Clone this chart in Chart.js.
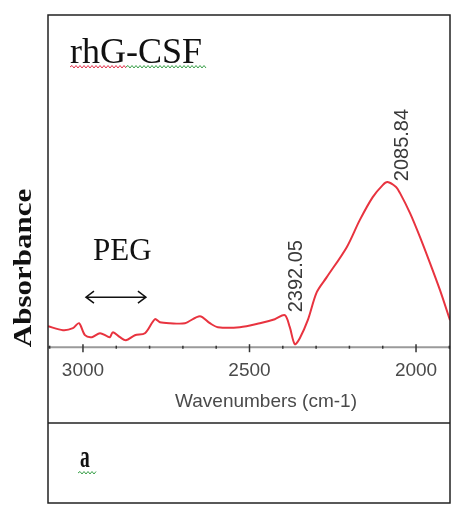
<!DOCTYPE html>
<html>
<head>
<meta charset="utf-8">
<script src="https://cdn.jsdelivr.net/npm/chart.js@4"></script>
<style>
  body { margin: 0; background: #fff; }
  canvas { display: block; }
</style>
</head>
<body>
<canvas id="grafico" width="453" height="507"></canvas>
<script>
// spectrum (wavenumber, absorbance in arbitrary units)
const wavenumbers = [3105, 3060, 3030, 3012, 2994, 2973, 2949, 2928, 2919, 2910, 2889, 2871, 2844, 2814, 2784, 2769, 2739, 2694, 2649, 2619, 2595, 2529, 2469, 2424, 2394, 2379, 2364, 2349, 2325, 2298, 2268, 2208, 2169, 2130, 2100, 2086, 2060, 2048, 2018, 1988, 1958, 1928, 1898];
const absorbance = [0.021, 0.017, 0.019, 0.024, 0.012, 0.010, 0.014, 0.011, 0.010, 0.015, 0.010, 0.007, 0.012, 0.014, 0.028, 0.025, 0.024, 0.024, 0.031, 0.024, 0.020, 0.020, 0.024, 0.028, 0.032, 0.020, 0.003, 0.009, 0.027, 0.055, 0.070, 0.100, 0.127, 0.150, 0.162, 0.165, 0.160, 0.154, 0.134, 0.110, 0.084, 0.057, 0.027];
const tickValues = [3100, 3000, 2900, 2800, 2700, 2600, 2500, 2400, 2300, 2200, 2100, 2000, 1900];
const tickLabels = [3000, 2500, 2000];
const peakLabels = ["2392.05", "2085.84"];
const peakPos = [[2360, 0.071], [2042, 0.202]];

const points = wavenumbers.map((w, i) => ({x: w, y: absorbance[i]}));

function squiggle(ctx, x1, x2, y, color) {
    ctx.beginPath();
    ctx.strokeStyle = color;
    ctx.lineWidth = 1;
    let up = true;
    ctx.moveTo(x1, y);
    for (let x = x1; x < x2; x += 2) {
        ctx.lineTo(x + 2, up ? y - 1.5 : y + 1);
        up = !up;
    }
    ctx.stroke();
}

const extras = {
    id: "extras",
    afterDatasetsDraw(chart) {
        const ctx = chart.ctx;
        const a = chart.chartArea;
        const xs = chart.scales.x;
        const ys = chart.scales.y;
        ctx.save();

        // axis line and ticks
        ctx.strokeStyle = "#9a9a9a";
        ctx.lineWidth = 2;
        ctx.beginPath();
        ctx.moveTo(a.left, a.bottom);
        ctx.lineTo(a.right, a.bottom);
        ctx.stroke();
        ctx.strokeStyle = "#333";
        ctx.lineWidth = 1.5;
        for (let v of tickValues) {
            const px = xs.getPixelForValue(v);
            const major = tickLabels.includes(v);
            ctx.beginPath();
            ctx.moveTo(px, a.bottom - (major ? 3 : 1.5));
            ctx.lineTo(px, a.bottom + (major ? 5 : 1.5));
            ctx.stroke();
        }

        // frame
        ctx.strokeStyle = "#222";
        ctx.lineWidth = 1.5;
        ctx.strokeRect(48, 15, 402, 488);
        ctx.beginPath();
        ctx.moveTo(48, 423);
        ctx.lineTo(450, 423);
        ctx.stroke();

        // axis title
        ctx.fillStyle = "#4a4a4a";
        ctx.font = "19px Arial, 'Liberation Sans'";
        ctx.textAlign = "center";
        ctx.textBaseline = "middle";
        ctx.fillText("Wavenumbers (cm-1)", 266, 402);

        // peak labels
        ctx.font = "20px Arial, 'Liberation Sans'";
        ctx.fillStyle = "#3a3a3a";
        peakLabels.forEach((lab, i) => {
            ctx.save();
            ctx.translate(xs.getPixelForValue(peakPos[i][0]), ys.getPixelForValue(peakPos[i][1]));
            ctx.rotate(-Math.PI / 2);
            ctx.fillText(lab, 0, 0);
            ctx.restore();
        });

        // serif texts
        ctx.fillStyle = "#111";
        ctx.textAlign = "left";
        ctx.textBaseline = "alphabetic";
        ctx.font = "36px 'Liberation Serif', 'Times New Roman', serif";
        ctx.fillText("rhG-CSF", 70, 63);
        squiggle(ctx, 70, 126, 67, "#e0304a");
        squiggle(ctx, 126, 206, 67, "#3aa04a");

        ctx.font = "31px 'Liberation Serif', 'Times New Roman', serif";
        ctx.fillText("PEG", 93, 260);

        // double arrow
        const ax1 = xs.getPixelForValue(2991), ax2 = xs.getPixelForValue(2811);
        const ay = ys.getPixelForValue(0.050);
        ctx.strokeStyle = "#111";
        ctx.lineWidth = 1.5;
        ctx.beginPath();
        ctx.moveTo(ax1, ay); ctx.lineTo(ax2, ay);
        ctx.moveTo(ax1 + 8, ay - 6); ctx.lineTo(ax1, ay); ctx.lineTo(ax1 + 8, ay + 6);
        ctx.moveTo(ax2 - 8, ay - 6); ctx.lineTo(ax2, ay); ctx.lineTo(ax2 - 8, ay + 6);
        ctx.stroke();

        // y title
        ctx.save();
        ctx.translate(31, 268);
        ctx.rotate(-Math.PI / 2);
        ctx.textAlign = "center";
        ctx.font = "bold 31px 'Liberation Serif', 'Times New Roman', serif";
        ctx.scale(1, 0.8);
        ctx.fillText("Absorbance", 0, 0);
        ctx.restore();

        // panel letter
        ctx.save();
        ctx.translate(80, 467);
        ctx.scale(0.75, 1.25);
        ctx.font = "bold 26px 'Liberation Serif', 'Times New Roman', serif";
        ctx.fillText("a", 0, 0);
        ctx.restore();
        squiggle(ctx, 78, 96, 473, "#3aa04a");

        ctx.restore();
    }
};

new Chart("grafico", {
    type: "line",
    data: {
        datasets: [{
            data: points,
            borderColor: "#e8333f",
            borderWidth: 2,
            pointRadius: 0,
            tension: 0.3,
            fill: false
        }]
    },
    options: {
        responsive: false,
        devicePixelRatio: 1,
        animation: false,
        layout: {padding: {left: 48, right: 3, top: 15, bottom: 113}},
        plugins: {legend: {display: false}, tooltip: {enabled: false}},
        scales: {
            x: {
                type: "linear",
                reverse: true,
                min: 1898,
                max: 3105,
                border: {display: false},
                grid: {display: false, drawTicks: false},
                afterBuildTicks: s => {
                    s.ticks = tickLabels.map(v => ({value: v}));
                },
                ticks: {
                    autoSkip: false,
                    maxRotation: 0,
                    padding: 12,
                    color: "#4a4a4a",
                    font: {family: "Arial, 'Liberation Sans'", size: 19},
                    callback: v => String(v)
                }
            },
            y: {
                display: false,
                min: 0,
                max: 0.332
            }
        }
    },
    plugins: [extras]
});
</script>
</body>
</html>
